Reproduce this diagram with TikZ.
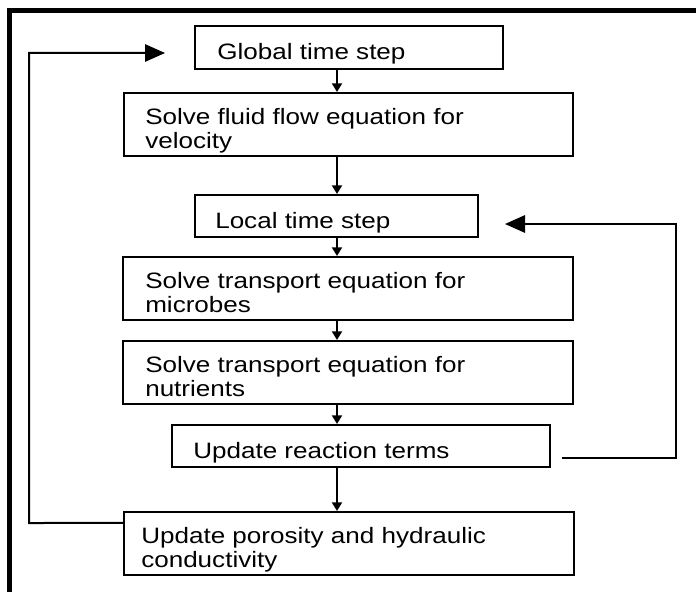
\documentclass[tikz,border=0pt]{standalone}
\usepackage{fontspec}
\setmainfont{Liberation Sans}[FakeStretch=1.17]
\usetikzlibrary{arrows.meta}

\tikzset{
  stepbox/.style={draw, line width=1.5pt, rectangle, inner sep=0pt},
  steptext/.style={anchor=north west, inner sep=0pt, align=left,
    font=\fontsize{16.7pt}{18.4pt}\selectfont},
  flow/.style={line width=1.5pt, -{Triangle[length=6.5pt,width=7.5pt]}},
  loopback/.style={line width=1.5pt, -{Triangle[length=15pt,width=13pt]}},
  frameline/.style={line width=3.7pt, line cap=butt, line join=miter}
}

\begin{document}
\begin{tikzpicture}[x=0.75pt,y=-0.75pt]
  \useasboundingbox (0,0) rectangle (696,592);
  \fill[white] (0,0) rectangle (696,592);

  % outer frame (top and left edges)
  \draw[frameline] (9.8,592) -- (9.8,10.3) -- (696,10.3);

  % boxes
  \node[stepbox, minimum width=231pt,   minimum height=32.25pt] (glob)  at (349,47.5)  {};
  \node[stepbox, minimum width=336.75pt,minimum height=47.25pt] (fluid) at (348.5,124.5) {};
  \node[stepbox, minimum width=212.25pt,minimum height=31.5pt]  (local) at (336.5,216) {};
  \node[stepbox, minimum width=337.5pt, minimum height=47.25pt] (micro) at (348,288.5) {};
  \node[stepbox, minimum width=337.5pt, minimum height=47.25pt] (nutr)  at (348,372.5) {};
  \node[stepbox, minimum width=283.5pt, minimum height=31.5pt]  (react) at (361,446)   {};
  \node[stepbox, minimum width=337.5pt, minimum height=47.25pt] (poro)  at (349,543.5) {};

  % labels
  \node[steptext] (tglob)  at (217,43)  {Global time step};
  \node[steptext] (tfluid) at (145,108) {Solve fluid flow equation for\\velocity};
  \node[steptext] (tlocal) at (215,212) {Local time step};
  \node[steptext] (tmicro) at (145,272) {Solve transport equation for\\microbes};
  \node[steptext] (tnutr)  at (145,356) {Solve transport equation for\\nutrients};
  \node[steptext] (treact) at (193,442) {Update reaction terms};
  \node[steptext] (tporo)  at (141,527) {Update porosity and hydraulic\\conductivity};

  % main downward flow
  \coordinate (ax) at (337,0);
  \draw[flow] (glob.south -| ax)  -- (fluid.north -| ax);
  \draw[flow] (fluid.south -| ax) -- (local.north -| ax);
  \draw[flow] (local.south -| ax) -- (micro.north -| ax);
  \draw[flow] (micro.south -| ax) -- (nutr.north -| ax);
  \draw[flow] (nutr.south -| ax)  -- (react.north -| ax);
  \draw[flow] (react.south -| ax) -- (poro.north -| ax);

  % outer loop back to the global time step
  \coordinate (lb)  at (29,523);
  \coordinate (lt)  at (29,53);
  \coordinate (gin) at (165,53);
  \draw[loopback] ([yshift=15.4pt]poro.west) -- (lb) -- (lt) -- (gin);

  % inner loop back to the local time step
  \coordinate (rb)  at (676,458);
  \coordinate (rt)  at (676,224);
  \coordinate (lin) at (505,224);
  \draw[loopback] ([xshift=8.25pt,yshift=-9pt]react.east) -- (rb) -- (rt) -- (lin);
\end{tikzpicture}
\end{document}
